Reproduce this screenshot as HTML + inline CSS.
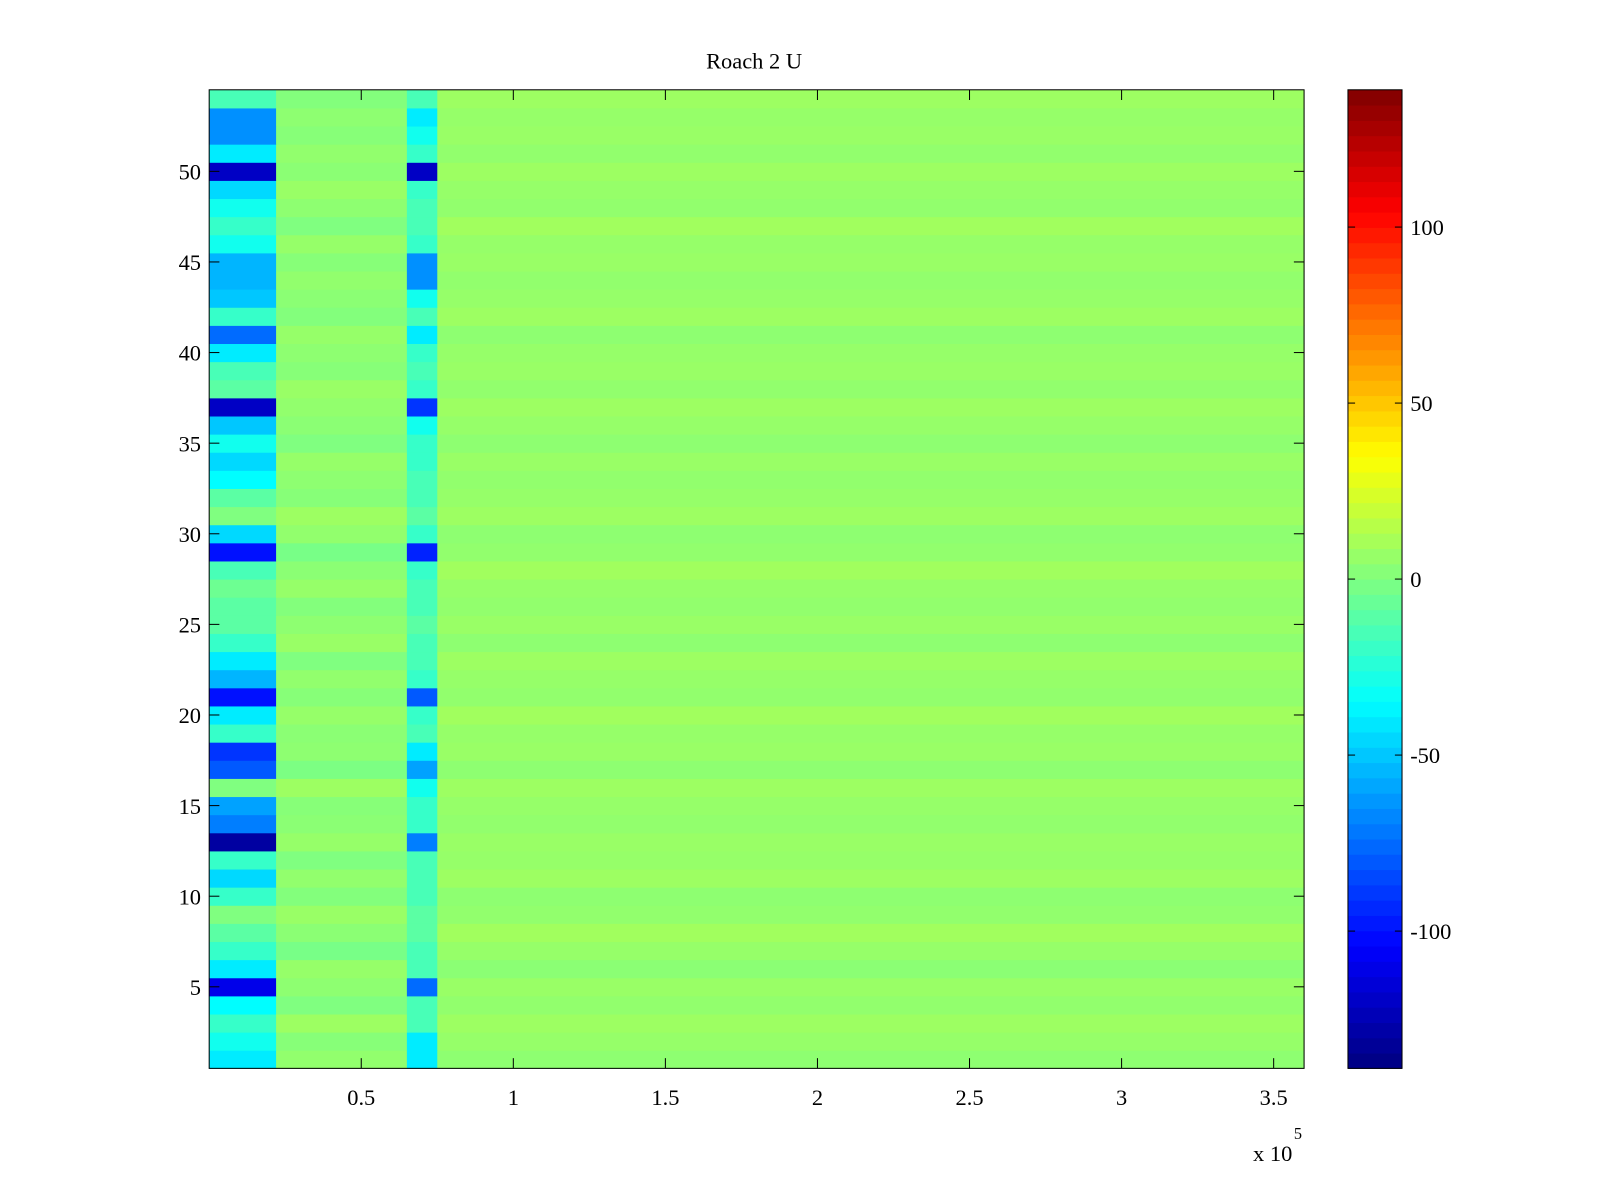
<!DOCTYPE html>
<html><head><meta charset="utf-8">
<style>
html,body{margin:0;padding:0;background:#fff;}
svg{display:block;font-family:"Liberation Serif",serif;}
</style></head>
<body>
<svg id="fig" width="1600" height="1200" viewBox="0 0 1600 1200">
<rect width="1600" height="1200" fill="#fff"/>
<g transform="scale(1.0204)">
<text x="739" y="67" font-size="22" text-anchor="middle">Roach 2 U</text>
<g id="heat"></g>
<g id="axes"></g>
<g id="cbar"></g>
</g>
</svg>
<script>
// Column bands (x in units of 1e5)
const bandEdges = [0, 0.22, 0.65, 0.75, 3.6];
// Rows 1..54 values per band (estimated)
const leftBand = [-40,-30,-20,-35,-110,-40,-20,-10,0,-20,-45,-20,-130,-70,-60,0,-80,-90,-20,-40,-100,-55,-40,-20,-10,-10,-5,-15,-100,-45,0,-10,-35,-45,-30,-50,-120,-10,-15,-40,-75,-20,-50,-55,-55,-30,-20,-30,-45,-120,-40,-65,-65,-15];
const midBand = [5,2,8,0,4,6,-2,3,7,1,5,0,6,3,2,8,-1,4,3,6,2,5,0,7,4,1,6,3,-2,5,8,2,4,6,0,3,5,7,2,4,6,1,3,5,2,6,0,4,7,3,5,2,4,1];
const blueBand = [-40,-40,-15,-15,-75,-15,-15,-10,-10,-15,-15,-15,-70,-20,-20,-30,-60,-40,-15,-20,-80,-20,-15,-15,-10,-15,-15,-20,-95,-20,-10,-15,-15,-20,-20,-30,-90,-20,-15,-20,-40,-15,-30,-65,-65,-20,-15,-15,-20,-120,-20,-30,-40,-15];
const restBand = [4,6,8,5,7,3,6,9,5,4,8,6,7,5,6,8,4,7,6,9,5,6,8,4,7,5,6,9,5,4,8,6,5,7,4,6,8,5,7,6,4,8,6,5,7,6,9,5,6,8,5,7,6,8];
const yTicks = [5,10,15,20,25,30,35,40,45,50];
const xTicks = [0.5,1,1.5,2,2.5,3,3.5];
const cTicks = [-100,-50,0,50,100];

const NS="http://www.w3.org/2000/svg";
const L=205,R=1278,T=88,B=1047;
const xs=v=>L+(v-0)/3.6*(R-L);
const ys=v=>B-(v-0.5)/54*(B-T);
const cmin=-139,cmax=139;
function jet(v){
  let t=(v-cmin)/(cmax-cmin);t=Math.max(0,Math.min(1,t));
  const f=x=>Math.max(0,Math.min(1,x));
  const r=f(Math.min(4*t-1.5,-4*t+4.5)),g=f(Math.min(4*t-0.5,-4*t+3.5)),b=f(Math.min(4*t+0.5,-4*t+2.5));
  return `rgb(${Math.round(r*255)},${Math.round(g*255)},${Math.round(b*255)})`;
}
function el(tag,attrs,parent){const e=document.createElementNS(NS,tag);for(const k in attrs)e.setAttribute(k,attrs[k]);parent.appendChild(e);return e;}
const heat=document.getElementById('heat');
const bands=[leftBand,midBand,blueBand,restBand];
for(let r=0;r<54;r++){
  for(let b=0;b<4;b++){
    const x0=xs(bandEdges[b]),x1=xs(bandEdges[b+1]);
    const c=el('rect',{x:x0,y:ys(r+1.5),width:x1-x0+0.5,height:ys(r+0.5)-ys(r+1.5)+0.5,fill:jet(bands[b][r])},heat);
    
    
  }
}
const ax=document.getElementById('axes');
el('rect',{x:L,y:T,width:R-L,height:B-T,fill:'none',stroke:'#000','stroke-width':1},ax);
yTicks.forEach(v=>{const y=ys(v);
  el('line',{x1:L,y1:y,x2:L+10,y2:y,stroke:'#000'},ax);
  el('line',{x1:R,y1:y,x2:R-10,y2:y,stroke:'#000'},ax);
  const t=el('text',{x:L-8,y:y+8,'font-size':22,'text-anchor':'end'},ax);t.textContent=v;
  
  
});
xTicks.forEach(v=>{const x=xs(v);
  el('line',{x1:x,y1:B,x2:x,y2:B-10,stroke:'#000'},ax);
  el('line',{x1:x,y1:T,x2:x,y2:T+10,stroke:'#000'},ax);
  const t=el('text',{x:x,y:B+36,'font-size':22,'text-anchor':'middle'},ax);t.textContent=v;
  
  
});
const ex=el('text',{x:1228,y:1138,'font-size':22},ax);ex.textContent='x 10';


const e5=el('text',{x:1268,y:1116,'font-size':16},ax);e5.textContent='5';


// colorbar
const cb=document.getElementById('cbar');
const CL=1321,CR=1374;
const cy=v=>B-(v-cmin)/(cmax-cmin)*(B-T);
const N=64;
for(let i=0;i<N;i++){
  const v0=cmin+(cmax-cmin)*i/N,v1=cmin+(cmax-cmin)*(i+1)/N;
  const s=el('rect',{x:CL,y:cy(v1),width:CR-CL,height:cy(v0)-cy(v1)+0.5,fill:jet((v0+v1)/2)},cb);
  
  
}
el('rect',{x:CL,y:T,width:CR-CL,height:B-T,fill:'none',stroke:'#000'},cb);
cTicks.forEach(v=>{const y=cy(v);
  el('line',{x1:CL,y1:y,x2:CL+7,y2:y,stroke:'#000'},cb);
  el('line',{x1:CR,y1:y,x2:CR-7,y2:y,stroke:'#000'},cb);
  const t=el('text',{x:CR+8,y:y+8,'font-size':22},cb);t.textContent=v;
  
  
});
</script>
</body></html>
